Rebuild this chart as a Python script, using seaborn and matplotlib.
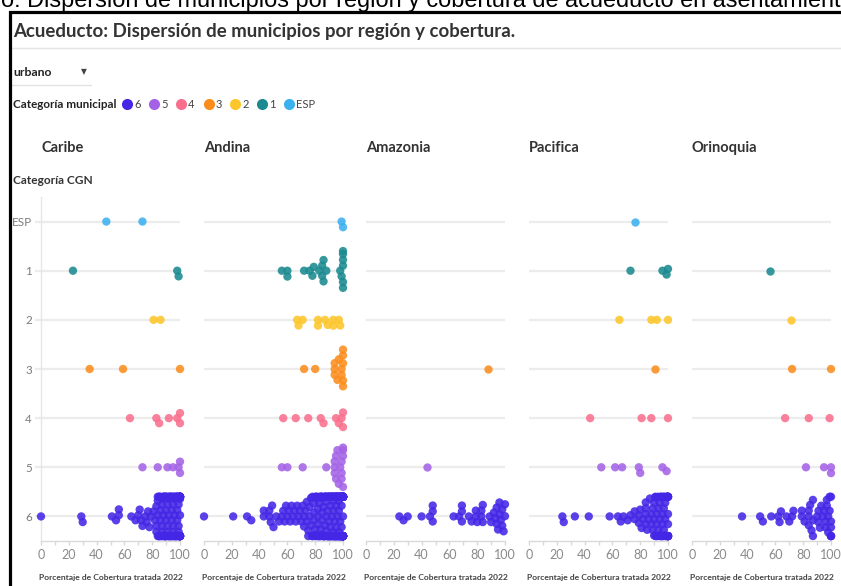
import warnings
warnings.filterwarnings('ignore')
import numpy as np
import pandas as pd
import matplotlib
matplotlib.use('Agg')
import matplotlib.pyplot as plt
import seaborn as sns
from matplotlib.lines import Line2D
from matplotlib.patches import Rectangle

sns.set_theme(style='white')
plt.rcParams['font.family'] = ['Lato', 'DejaVu Sans']

# ---------------- data ----------------
regions = ['Caribe', 'Andina', 'Amazonia', 'Pacifica', 'Orinoquia']
categories = ['ESP', '1', '2', '3', '4', '5', '6']
legend_order = ['6', '5', '4', '3', '2', '1', 'ESP']
x_ticks = [0, 20, 40, 60, 80, 100]
palette = {'6': '#4427e6', '5': '#a463e6', '4': '#f9708f', '3': '#fb8d1d',
           '2': '#fdc62c', '1': '#1a8a90', 'ESP': '#3cb1f0'}

caribe_esp = [47, 73]
caribe_1 = [23, 98, 99]
caribe_2 = [81, 86]
caribe_3 = [35, 59, 100]
caribe_4 = [64, 83, 85, 92, 98, 100, 100]
caribe_5 = [73, 84, 91, 95, 99, 100, 100]
caribe_6 = [0, 29, 30, 51, 54, 56, 56, 65, 68, 70, 71, 72, 73, 75, 76, 77, 78, 79, 81,
            82, 83, 83, 83, 84, 84, 84, 84, 85, 85, 85, 85,
            86, 86, 86, 86, 87, 87, 87, 87, 88, 88, 88, 88, 88, 89, 89, 89, 89, 89, 90, 90,
            90, 90, 90, 90, 91, 91, 91, 91, 91, 92, 92, 92, 92, 92, 93, 93, 93, 93, 93, 94,
            94, 94, 94, 94, 95, 95, 95, 95, 95, 95, 96, 96, 96, 96, 96, 97, 97, 97, 97, 97,
            98, 98, 98, 98, 98, 98, 99, 99, 99, 99, 99, 99, 100, 100, 100, 100, 100, 100,
            100, 100, 100, 100, 100, 100, 100, 100, 100, 100, 100, 100, 100, 100]

andina_esp = [99, 100]
andina_1 = [56, 60, 60, 72, 76, 78, 79, 83, 85, 85, 86, 86, 88, 98, 99, 100, 100, 100, 100, 100, 100]
andina_2 = [67, 68, 71, 82, 82, 87, 89, 93, 93, 97, 98]
andina_3 = [72, 80, 94, 94, 94, 96, 97, 99, 99, 100, 100, 100, 100, 100]
andina_4 = [57, 66, 75, 84, 86, 95, 97, 99, 100, 100]
andina_5 = [56, 60, 71, 88, 94, 94, 94, 95, 95, 96, 97, 98, 99, 99, 99, 100, 100, 100, 100]
andina_6 = [0, 21, 31, 34, 43, 43, 47, 47, 48, 49, 50, 52, 54, 56, 57, 58, 59, 60, 61,
            62, 63, 64, 65, 66, 67, 68, 69, 70, 71, 72, 72, 73, 74, 74, 75, 75, 76, 76, 77,
            77, 78, 78, 78, 79, 79, 79, 80, 80, 80, 80, 81, 81, 81, 81, 82, 82, 82, 82, 83,
            83, 83, 83, 84, 84, 84, 84, 84, 85, 85, 85, 85, 85, 86, 86, 86, 86, 86, 87, 87,
            87, 87, 87, 88, 88, 88, 88, 88, 88, 89, 89, 89, 89, 89, 89, 90, 90, 90, 90, 90,
            90, 90, 91, 91, 91, 91, 91, 91, 91, 92, 92, 92, 92, 92, 92, 92, 93, 93, 93, 93,
            93, 93, 93, 94, 94, 94, 94, 94, 94, 94, 94, 95, 95, 95, 95, 95, 95, 95, 95, 96,
            96, 96, 96, 96, 96, 96, 96, 97, 97, 97, 97, 97, 97, 97, 97, 97, 98, 98, 98, 98,
            98, 98, 98, 98, 98, 99, 99, 99, 99, 99, 99, 99, 99, 99, 99, 100, 100, 100, 100,
            100, 100, 100, 100, 100, 100, 100, 100, 100, 100, 100, 100, 100, 100, 100, 100,
            100, 100, 100, 100, 100, 100, 100, 100, 100, 100, 100, 100, 100, 100, 100, 100,
            100, 100, 100, 100, 100, 100, 100, 100]

amazonia_esp = []
amazonia_1 = []
amazonia_2 = []
amazonia_3 = [88]
amazonia_4 = []
amazonia_5 = [44]
amazonia_6 = [24, 27, 30, 40, 46, 48, 48, 48, 63, 67, 69, 69, 69, 74, 76, 79, 79, 80, 83, 83,
              84, 84, 89, 90, 92, 93, 94, 94, 95, 96, 96, 97, 98, 98, 99, 100, 100]

pacifica_esp = [76]
pacifica_1 = [73, 96, 99, 100]
pacifica_2 = [65, 88, 92, 100]
pacifica_3 = [91]
pacifica_4 = [44, 81, 88, 100]
pacifica_5 = [52, 62, 67, 79, 80, 96, 99]
pacifica_6 = [24, 25, 33, 43, 58, 64, 66, 68, 71, 73, 76, 76, 79, 79, 80, 81, 82, 84, 84, 84,
              84, 85, 86, 87, 88, 88, 89, 89, 90, 90, 90, 91, 91, 91, 92, 92, 92, 93, 93, 93,
              94, 94, 94, 94, 95, 95, 95, 95, 96, 96, 96, 96, 97, 97, 97, 97, 98, 98, 98, 98,
              99, 99, 99, 99, 100, 100, 100, 100, 100, 100, 100, 100, 100, 100, 100, 100]

orinoquia_esp = []
orinoquia_1 = [56]
orinoquia_2 = [71]
orinoquia_3 = [72, 100]
orinoquia_4 = [67, 84, 99]
orinoquia_5 = [82, 95, 100, 100]
orinoquia_6 = [36, 49, 51, 57, 62, 63, 64, 68, 70, 72, 73, 79, 79, 81, 84, 84, 84, 85, 86, 87,
               87, 87, 90, 91, 91, 92, 93, 94, 95, 96, 96, 97, 97, 98, 98, 99, 99, 100, 100,
               100, 100, 100, 100]

region_data = {
    'Caribe': [caribe_esp, caribe_1, caribe_2, caribe_3, caribe_4, caribe_5, caribe_6],
    'Andina': [andina_esp, andina_1, andina_2, andina_3, andina_4, andina_5, andina_6],
    'Amazonia': [amazonia_esp, amazonia_1, amazonia_2, amazonia_3, amazonia_4, amazonia_5, amazonia_6],
    'Pacifica': [pacifica_esp, pacifica_1, pacifica_2, pacifica_3, pacifica_4, pacifica_5, pacifica_6],
    'Orinoquia': [orinoquia_esp, orinoquia_1, orinoquia_2, orinoquia_3, orinoquia_4, orinoquia_5, orinoquia_6],
}

rows = []
for reg in regions:
    for cat, vals in zip(categories, region_data[reg]):
        for v in vals:
            rows.append((reg, cat, v))
df = pd.DataFrame(rows, columns=['region', 'categoria', 'cobertura'])

# ---------------- layout ----------------
W, H = 841, 586
fig = plt.figure(figsize=(W / 100, H / 100), dpi=100)
fig.patch.set_facecolor('white')

def fx(px):
    return px / W

def fy(py):
    return 1 - py / H

# cut-off caption above the frame
fig.text(fx(1), fy(7), 'o: Dispersión de municipios por región y cobertura de acueducto en asentamientos',
         fontsize=16.9, family=['Liberation Sans', 'DejaVu Sans'], color='black', va='baseline', ha='left')

# frame
fig.add_artist(Rectangle((fx(9.5), -0.2), 1.5, fy(11.5) + 0.2, transform=fig.transFigure,
                         fill=False, ec='black', lw=2.3, zorder=10))
fig.add_artist(Line2D([fx(11), 1], [fy(48), fy(48)], color='#e4e4e4', lw=1.0))

title_color = '#333333'
fig.text(fx(13), fy(31), 'Acueducto: Dispersión de municipios por región y cobertura.',
         fontsize=13.4, fontweight='bold', color=title_color, va='center', ha='left')

# dropdown
fig.text(fx(13), fy(73), 'urbano', fontsize=8.8, fontweight='bold', color='#222', va='center', ha='left')
fig.text(fx(84), fy(72), '▼', fontsize=5.5, family=['DejaVu Sans'], color='#444', va='center', ha='center')
fig.add_artist(Line2D([fx(11), fx(91)], [fy(85), fy(85)], color='#e2e2e2', lw=1.0))

# legend
fig.text(fx(13), fy(104), 'Categoría municipal', fontsize=8.4, fontweight='bold', color='#222',
         va='center', ha='left')
handles = [Line2D([], [], marker='o', ls='', color=palette[c], markersize=8, markeredgewidth=0)
           for c in legend_order]
fig.legend(handles, legend_order, ncol=7, loc='center left', bbox_to_anchor=(fx(124), fy(104)),
           frameon=False, handlelength=0.6, handletextpad=0.3, columnspacing=0.95,
           fontsize=8, borderpad=0, borderaxespad=0, labelcolor='#444')

fig.text(fx(13), fy(180), 'Categoría CGN', fontsize=8.6, fontweight='bold', color=title_color,
         va='center', ha='left')

swarm_size = 4.0   # collision diameter (pt)
dot_size = 6.0     # drawn diameter (pt)

lefts = [41, 204, 366, 529, 692]
axes = []
for i, (reg, left) in enumerate(zip(regions, lefts)):
    ax = fig.add_axes([fx(left), fy(541), 139 / W, 344 / H])
    axes.append(ax)
    sub = df[df['region'] == reg]
    sns.swarmplot(data=sub, x='cobertura', y='categoria', hue='categoria', order=categories,
                  hue_order=categories, palette=palette, size=swarm_size, alpha=0.88, linewidth=0,
                  orient='h', legend=False, ax=ax, warn_thresh=1.0)
    for coll in ax.collections:
        coll.set_clip_on(False)
    ax.set_xlim(0, 100)
    ax.set_ylim(6.5, -0.5)
    ax.set_axisbelow(True)
    ax.yaxis.grid(True, color='#ececec', lw=1.6)
    ax.xaxis.grid(False)
    ax.set_xticks(x_ticks)
    ax.set_xticks(list(range(0, 101, 10)), minor=True)
    ax.tick_params(axis='x', which='both', length=3, width=1, color='#d9d9d9',
                   labelsize=9, labelcolor='#8a8a8a', pad=3, bottom=True)
    for s in ['top', 'right']:
        ax.spines[s].set_visible(False)
    ax.spines['bottom'].set_color('#d9d9d9')
    ax.spines['bottom'].set_linewidth(1)
    if i == 0:
        ax.spines['left'].set_color('#e6e6e6')
        ax.spines['left'].set_linewidth(1)
        ax.tick_params(axis='y', length=4, width=1.6, color='#ececec', labelsize=8.4,
                       labelcolor='#7a7a7a', pad=2.5, left=True)
    else:
        ax.spines['left'].set_visible(False)
        ax.tick_params(axis='y', length=0, labelleft=False)
    ax.set_ylabel('')
    ax.set_xlabel('Porcentaje de Cobertura tratada 2022', fontsize=6.1, fontweight='bold',
                  color='#444', labelpad=9)
    fig.text(fx(left), fy(148), reg, fontsize=10.5, fontweight='bold', color=title_color,
             va='center', ha='left')

# compute the swarm layout with the collision size, then freeze it and draw larger dots
fig.canvas.draw()
for ax in axes:
    for coll in ax.collections:
        if 'draw' in coll.__dict__:
            del coll.draw
        coll.set_sizes([dot_size ** 2])

fig.savefig('out.png', dpi=100)
